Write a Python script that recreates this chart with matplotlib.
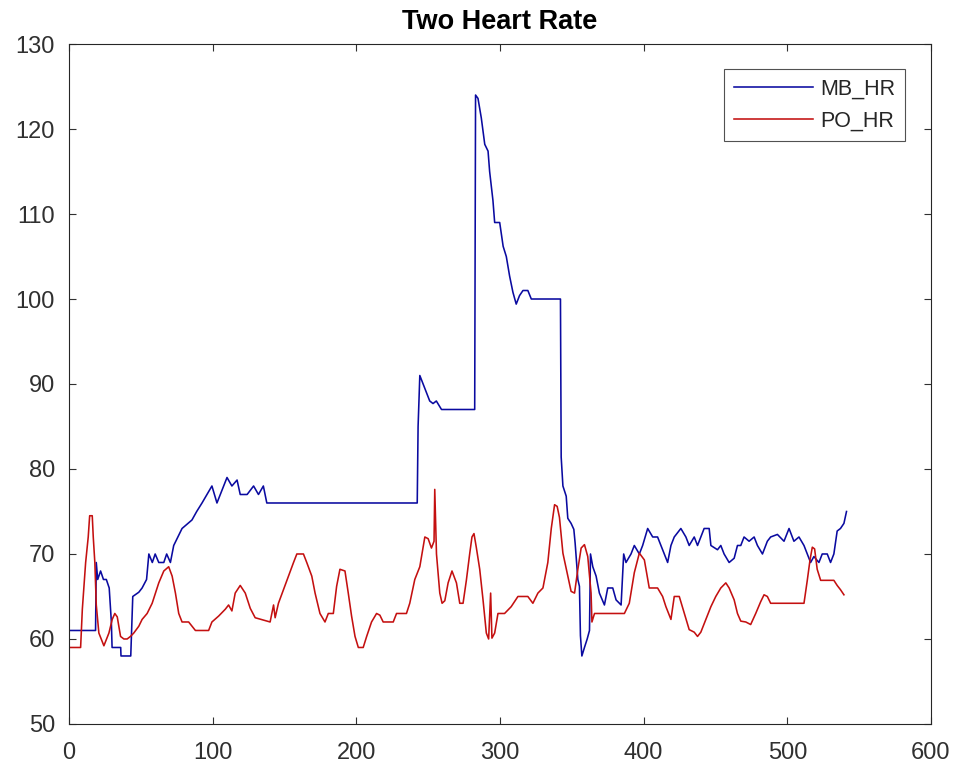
import matplotlib
matplotlib.use("Agg")
import matplotlib.pyplot as plt

plt.rcParams['font.family'] = ['Liberation Sans', 'DejaVu Sans']

title = "Two Heart Rate"
series_names = ["MB_HR", "PO_HR"]

mb_x = [0, 18.5, 19, 20, 22, 24, 26, 28, 29.5, 30, 36, 36.2, 43, 44.4, 48.6, 50.9, 54, 55.6, 58, 60,
        62.5, 66, 68, 70.6, 72.9, 78.7, 85.6, 88.9, 92.6, 99.5, 103, 106.5, 110, 113.4, 117, 119.2,
        124, 128.5, 131.9, 135.3, 137.7, 242.4, 243, 244.2, 246.5, 248.8, 251.1, 253.4, 255.7, 259.3,
        282.4, 283, 284.7, 287, 289.4, 291.7, 292.8, 295.1, 296.3, 299.8, 302.2, 304.4, 306.7, 309,
        311.3, 313.6, 316, 319.4, 321.8, 342.1, 342.6, 343.8, 346.1, 347.2, 349.5, 351.4, 352.3,
        354.2, 355.3, 356, 357, 358.8, 360.7, 362.3, 363, 364.6, 366.9, 369.2, 372.7, 375, 378.5,
        380.8, 384.3, 386.1, 387.7, 391.2, 393.5, 397, 399.3, 402.8, 406.3, 409.7, 414.4, 416.7,
        419, 421.3, 425.9, 429.4, 431.7, 435.2, 437.5, 442.1, 445.6, 446.8, 451.4, 453.7, 456,
        459.5, 463, 465.3, 467.6, 469.9, 473.4, 476.9, 479.2, 482.7, 486.1, 488.4, 493.1, 497.7,
        501.2, 504.6, 508.1, 511.6, 513.9, 516.2, 518.5, 522, 524.3, 527.8, 530.1, 532.4, 534.7,
        537, 539.4, 541.2]
mb_y = [61, 61, 69, 67, 68, 67, 67, 66, 62, 59, 59, 58, 58, 65, 65.5, 66, 67, 70, 69, 70,
        69, 69, 70, 69, 71, 73, 74, 75, 76, 78, 76, 77.5, 79, 78, 78.7, 77,
        77, 78, 77, 78, 76, 76, 85, 91, 90, 89, 88, 87.7, 88, 87,
        87, 124, 123.6, 121.3, 118.2, 117.4, 115, 111.6, 109, 109, 106.2, 105, 102.7, 100.8,
        99.4, 100.4, 101, 101, 100, 100, 81.4, 78, 76.8, 74.2, 73.6, 72.9, 71.3,
        67, 66.2, 60.4, 58, 59, 60, 61, 70, 68.5, 67.4, 65.4, 64, 66, 66,
        64.6, 64, 70, 69, 70, 71, 70, 71, 73, 72, 72, 70, 69,
        71, 72, 73, 72, 71, 72, 71, 73, 73, 71, 70.5, 71, 70,
        69, 69.5, 71, 71, 72, 71.5, 72, 71, 70, 71.5, 72, 72.3, 71.5,
        73, 71.5, 72, 71, 70, 69, 69.7, 69, 70, 70, 69, 70, 72.7,
        73, 73.6, 75]

po_x = [0, 8.1, 9.3, 11.6, 13.4, 14.4, 16.2, 16.9, 18, 19, 20.8, 24.3, 27.8, 30.1, 31.9, 33.6, 35.9,
        38.2, 40.5, 42.8, 45.1, 48.6, 50.9, 54.4, 57.9, 60.2, 62.5, 66, 69.4, 71.8, 74.1, 76.4, 78.7,
        83.3, 88, 97.2, 99.5, 104.2, 108.8, 111.1, 113.4, 115.7, 119.2, 122.7, 126.2, 129.6, 140,
        142.4, 143.5, 145.8, 149.3, 152.8, 156.3, 158.6, 163.2, 165.5, 169, 171.3, 174.7, 178.2,
        180.5, 184, 186.3, 188.6, 192.1, 194.4, 196.7, 199.1, 201.4, 204.8, 207.2, 210.6, 214.1,
        216.4, 218.7, 225.7, 228, 234.9, 237.2, 240.7, 244.2, 247.7, 250, 252.3, 254.1, 254.6,
        255.8, 258.1, 259.7, 261.6, 263.9, 266.6, 269.7, 272, 274.3, 276.6, 278.9, 280.5, 281.9,
        283.5, 285.9, 288.2, 290.5, 292.1, 293.5, 294.4, 296.3, 298.6, 303.2, 307.8, 312.5, 319.4,
        322.9, 326.4, 329.9, 333.3, 335.7, 338, 339.8, 341.4, 343.8, 347.2, 349.5, 351.9, 354.2,
        356.5, 358.8, 361.1, 363.4, 364, 365.8, 386.6, 390, 393.5, 397, 400.5, 403.9, 409.7, 413.2,
        415.5, 419, 421.3, 424.8, 428.3, 431.7, 435.2, 437.5, 439.8, 443.3, 446.8, 450.2, 453.7,
        457.2, 459.5, 463, 465.3, 467.6, 471.1, 474.5, 478, 481.5, 483.8, 486.1, 488.4, 511.6,
        513.9, 515.8, 517.4, 519, 520.8, 523.2, 532.4, 534.7, 537, 539.4]
po_y = [59, 59, 63.5, 69, 72, 74.5, 74.5, 72, 69, 64, 60.7, 59.2, 60.7, 62.3, 63, 62.6, 60.3,
        60, 60, 60.3, 60.7, 61.5, 62.3, 63, 64.2, 65.4, 66.6, 68, 68.5, 67.4, 65.4, 63, 62,
        62, 61, 61, 62, 62.7, 63.5, 64, 63.3, 65.4, 66.3, 65.4, 63.6, 62.5, 62,
        64, 62.5, 64.2, 65.8, 67.4, 69, 70, 70, 69, 67.4, 65.4, 63, 62,
        63, 63, 66.2, 68.2, 68, 65.4, 62.7, 60.3, 59, 59, 60.3, 62, 63,
        62.8, 62, 62, 63, 63, 64.2, 67, 68.5, 72, 71.8, 70.7, 71.5, 77.6,
        70, 65.4, 64.2, 64.5, 66.6, 68, 66.6, 64.2, 64.2, 66.9, 70, 72, 72.4,
        70.8, 68.2, 64.6, 60.7, 60, 65.4, 60.1, 60.7, 63, 63, 63.8, 65, 65,
        64.2, 65.4, 66, 69, 73, 75.8, 75.6, 74.3, 70.1, 67.4, 65.6, 65.4, 68.2,
        70.7, 71.1, 69.7, 65.4, 62, 63, 63, 64.2, 67.8, 70.1, 69.3, 66, 66, 65,
        63.8, 62.3, 65, 65, 63, 61.1, 60.8, 60.3, 60.8, 62.3, 63.8, 65, 66,
        66.6, 66, 64.6, 63, 62.1, 62, 61.7, 63, 64.4, 65.2, 65, 64.2, 64.2,
        66.9, 69.3, 70.8, 70.6, 68.2, 66.9, 66.9, 66.3, 65.8, 65.2]

x_ticks = [0, 100, 200, 300, 400, 500, 600]
y_ticks = [50, 60, 70, 80, 90, 100, 110, 120, 130]

fig = plt.figure(figsize=(9.58, 7.67), dpi=100, facecolor='white')
ax = fig.add_axes([0.0720, 0.0561, 0.8998, 0.8865])

ax.plot(mb_x, mb_y, color='#0a0aa0', lw=1.15, label=series_names[0])
ax.plot(po_x, po_y, color='#c41010', lw=1.15, label=series_names[1])

ax.set_xlim(0, 600)
ax.set_ylim(50, 130)
ax.set_xticks(x_ticks)
ax.set_yticks(y_ticks)
ax.tick_params(direction='in', length=5, width=0.8, colors='#303030',
               labelsize=17, top=True, right=True)
ax.tick_params(axis='x', pad=13)
ax.tick_params(axis='y', pad=10)
for s in ax.spines.values():
    s.set_color('#262626')
    s.set_linewidth(0.8)

ax.set_title(title, fontsize=19.5, fontweight='bold', color='black', pad=11)

leg = ax.legend(loc='upper right', bbox_to_anchor=(0.9698, 0.9632), borderaxespad=0,
                fontsize=15.5, frameon=True, fancybox=False, handlelength=3.67,
                handletextpad=0.33, borderpad=0.45, labelspacing=0.49)
leg.get_frame().set_edgecolor('#262626')
leg.get_frame().set_linewidth(0.8)
for t in leg.get_texts():
    t.set_color('#262626')

fig.savefig('out.png', dpi=100, facecolor='white')
